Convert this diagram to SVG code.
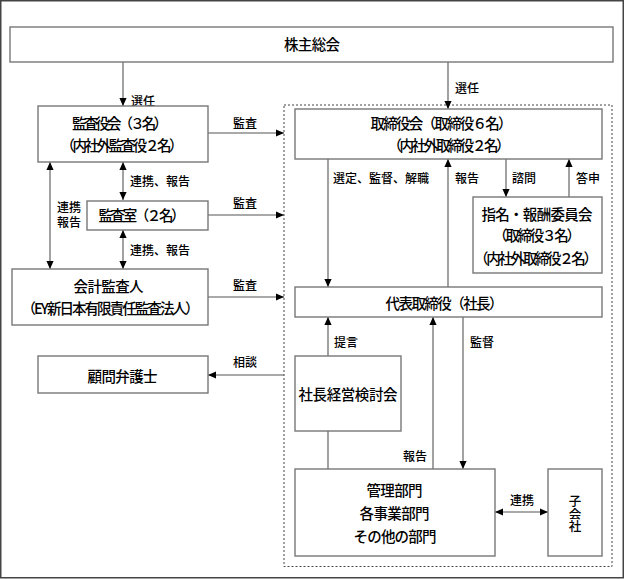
<svg xmlns="http://www.w3.org/2000/svg" width="624" height="579" viewBox="0 0 624 579">
<style>
.frame{fill:#fff;stroke:#444;stroke-width:1.5}
.box{fill:#fff;stroke:#777;stroke-width:1.4}
.dot{fill:none;stroke:#444;stroke-width:1;stroke-dasharray:2,2}
.c{fill:none;stroke:#555;stroke-width:1.1}
.t{font-family:"Noto Sans CJK JP","Noto Sans",sans-serif;font-size:14.5px;font-weight:500;fill:#000;text-anchor:middle}
.l{font-family:"Noto Sans CJK JP","Noto Sans",sans-serif;font-size:12px;font-weight:500;fill:#000}
</style>
<defs>
<marker id="ah" viewBox="0 0 10 10" refX="10" refY="5" markerWidth="8" markerHeight="8" markerUnits="userSpaceOnUse" orient="auto-start-reverse">
<path d="M0,0.5 L10,5 L0,9.5 z" fill="#000"/>
</marker>
</defs>
<rect class="frame" x="0.75" y="0.75" width="622.5" height="577"/>
<rect class="dot" x="284" y="105" width="328" height="461.5"/>

<g id="connectors">
<line class="c" x1="123" y1="62" x2="123" y2="106" marker-end="url(#ah)"/>
<line class="c" x1="448" y1="62" x2="448" y2="109" marker-end="url(#ah)"/>
<line class="c" x1="208" y1="133" x2="284" y2="133" marker-end="url(#ah)"/>
<line class="c" x1="208" y1="215" x2="284" y2="215" marker-end="url(#ah)"/>
<line class="c" x1="208" y1="297" x2="284" y2="297" marker-end="url(#ah)"/>
<line class="c" x1="284" y1="375" x2="208" y2="375" marker-end="url(#ah)"/>
<line class="c" x1="123" y1="162" x2="123" y2="200" marker-start="url(#ah)" marker-end="url(#ah)"/>
<line class="c" x1="123" y1="230" x2="123" y2="269" marker-start="url(#ah)" marker-end="url(#ah)"/>
<line class="c" x1="50" y1="162" x2="50" y2="269" marker-start="url(#ah)" marker-end="url(#ah)"/>
<line class="c" x1="328" y1="159" x2="328" y2="287" marker-end="url(#ah)"/>
<line class="c" x1="448" y1="287" x2="448" y2="159" marker-end="url(#ah)"/>
<line class="c" x1="506" y1="159" x2="506" y2="197" marker-end="url(#ah)"/>
<line class="c" x1="569" y1="197" x2="569" y2="159" marker-end="url(#ah)"/>
<line class="c" x1="328" y1="356" x2="328" y2="317" marker-end="url(#ah)"/>
<line class="c" x1="328" y1="431" x2="328" y2="469"/>
<line class="c" x1="433" y1="469" x2="433" y2="317" marker-end="url(#ah)"/>
<line class="c" x1="463" y1="317" x2="463" y2="469" marker-end="url(#ah)"/>
<line class="c" x1="495" y1="512" x2="548" y2="512" marker-start="url(#ah)" marker-end="url(#ah)"/>
<text class="l" x="131" y="106">選任</text>
<text class="l" x="455" y="93">選任</text>
<text class="l" x="233" y="127.5">監査</text>
<text class="l" x="233" y="207.5">監査</text>
<text class="l" x="233" y="289.5">監査</text>
<text class="l" x="233" y="367">相談</text>
<text class="l" x="130" y="186">連携、報告</text>
<text class="l" x="130" y="254.5">連携、報告</text>
<text class="l"><tspan x="57" y="212">連携</tspan><tspan x="57" y="226.5">報告</tspan></text>
<text class="l" x="333" y="183">選定、監督、解職</text>
<text class="l" x="455" y="183">報告</text>
<text class="l" x="512" y="183">諮問</text>
<text class="l" x="576" y="183">答申</text>
<text class="l" x="334" y="347">提言</text>
<text class="l" x="470" y="347">監督</text>
<text class="l" x="403" y="460.5">報告</text>
<text class="l" x="510" y="504.5">連携</text>
</g>

<g id="n_shareholders">
<rect class="box" x="10" y="27" width="603" height="35"/>
<text class="t" x="312" y="49.5" textLength="56" lengthAdjust="spacing">株主総会</text>
</g>
<g id="n_auditboard">
<rect class="box" x="38" y="106" width="170" height="56"/>
<text class="t" x="120" y="128.5" textLength="96" lengthAdjust="spacing">監査役会（３名）</text>
<text class="t" x="122" y="151" textLength="123" lengthAdjust="spacing">（内社外監査役２名）</text>
</g>
<g id="n_auditoffice">
<rect class="box" x="87" y="201" width="121" height="29"/>
<text class="t" x="142" y="220.5" textLength="87" lengthAdjust="spacing">監査室（２名）</text>
</g>
<g id="n_accountant">
<rect class="box" x="12" y="269" width="196" height="56"/>
<text class="t" x="108.5" y="292" textLength="70" lengthAdjust="spacing">会計監査人</text>
<text class="t" x="110.5" y="313.5" textLength="178" lengthAdjust="spacing">（EY新日本有限責任監査法人）</text>
</g>
<g id="n_lawyer">
<rect class="box" x="38" y="356" width="170" height="37"/>
<text class="t" x="122.5" y="382" textLength="70" lengthAdjust="spacing">顧問弁護士</text>
</g>
<g id="n_board">
<rect class="box" x="295" y="109" width="307" height="50"/>
<text class="t" x="441.5" y="128.5" textLength="142" lengthAdjust="spacing">取締役会（取締役６名）</text>
<text class="t" x="449" y="151" textLength="123" lengthAdjust="spacing">（内社外取締役２名）</text>
</g>
<g id="n_committee">
<rect class="box" x="473" y="197" width="129" height="76"/>
<text class="t" x="537" y="219.5" textLength="111" lengthAdjust="spacing">指名・報酬委員会</text>
<text class="t" x="537" y="241" textLength="88" lengthAdjust="spacing">（取締役３名）</text>
<text class="t" x="536" y="263.5" textLength="124" lengthAdjust="spacing">（内社外取締役２名）</text>
</g>
<g id="n_president">
<rect class="box" x="295" y="287" width="307" height="30"/>
<text class="t" x="444.5" y="308.5" textLength="118" lengthAdjust="spacing">代表取締役（社長）</text>
</g>
<g id="n_mgmtmeeting">
<rect class="box" x="295" y="356" width="106" height="75"/>
<text class="t" x="348" y="399.5" textLength="99" lengthAdjust="spacing">社長経営検討会</text>
</g>
<g id="n_departments">
<rect class="box" x="295" y="469" width="200" height="87"/>
<text class="t" x="394.5" y="495.5" textLength="56" lengthAdjust="spacing">管理部門</text>
<text class="t" x="394.5" y="518.5" textLength="70" lengthAdjust="spacing">各事業部門</text>
<text class="t" x="395" y="542" textLength="83" lengthAdjust="spacing">その他の部門</text>
</g>
<g id="n_subsidiary">
<rect class="box" x="548" y="469" width="54" height="87"/>
<text class="t" style="font-size:12.5px;writing-mode:vertical-rl" x="575" y="514">子会社</text>
</g>
</svg>
